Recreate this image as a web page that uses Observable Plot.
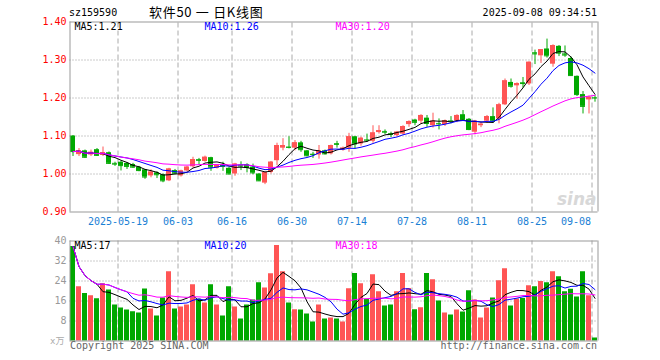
<!DOCTYPE html>
<html><head><meta charset="utf-8">
<script src="https://cdn.jsdelivr.net/npm/d3@7"></script>
<script src="https://cdn.jsdelivr.net/npm/@observablehq/plot@0.6"></script>
<style>
body{margin:0;background:#fff;}
#wrap{position:relative;width:660px;height:360px;overflow:hidden;font-family:"DejaVu Sans Mono","Noto Sans CJK SC",monospace;}
#wrap svg{position:absolute;left:0;}
.lbl{position:absolute;white-space:nowrap;font-size:10px;line-height:12px;height:12px;}
</style></head><body><div id="wrap"></div>
<script>
// ---- data ----
const code = "sz159590";
const title = "软件50 一 日K线图";
const stamp = "2025-09-08 09:34:51";
const open  = [1.100,1.051,1.061,1.050,1.064,1.049,1.056,1.028,1.031,1.028,1.025,1.018,1.011,0.995,1.003,0.998,0.982,1.009,0.995,1.008,
               1.019,1.038,1.033,1.043,1.015,1.023,1.015,1.000,1.023,1.024,1.018,1.000,0.976,1.004,1.035,1.068,1.071,1.068,1.082,1.061,
               1.052,1.050,1.061,1.053,1.080,1.063,1.068,1.098,1.079,1.090,1.086,1.109,1.112,1.106,1.101,1.105,1.130,1.142,1.139,1.147,
               1.127,1.133,1.130,1.140,1.140,1.156,1.144,1.110,1.127,1.139,1.151,1.145,1.182,1.241,1.232,1.240,1.237,1.319,1.311,1.329,
               1.289,1.336,1.316,1.304,1.257,1.209,1.195,1.201];
const high  = [1.101,1.067,1.063,1.063,1.067,1.071,1.058,1.031,1.034,1.030,1.028,1.020,1.012,1.011,1.006,1.000,1.015,1.012,1.010,1.020,
               1.044,1.041,1.047,1.044,1.025,1.031,1.017,1.028,1.032,1.027,1.026,1.001,1.005,1.033,1.081,1.093,1.098,1.088,1.086,1.062,
               1.057,1.075,1.063,1.076,1.086,1.071,1.107,1.099,1.097,1.105,1.127,1.127,1.116,1.110,1.112,1.127,1.140,1.144,1.156,1.154,
               1.160,1.145,1.142,1.151,1.156,1.167,1.146,1.141,1.136,1.154,1.174,1.186,1.250,1.250,1.240,1.254,1.295,1.326,1.327,1.355,
               1.340,1.338,1.337,1.308,1.258,1.217,1.205,1.206];
const low   = [1.046,1.046,1.041,1.046,1.046,1.046,1.025,1.020,1.008,1.012,1.015,1.006,0.986,0.990,0.988,0.977,0.980,1.000,0.992,1.006,
               1.016,1.024,1.031,1.007,1.013,1.007,0.998,0.994,1.009,1.003,0.998,0.980,0.972,1.000,1.022,1.061,1.066,1.061,1.057,1.045,
               1.041,1.039,1.050,1.050,1.068,1.060,1.057,1.066,1.073,1.083,1.081,1.105,1.104,1.096,1.098,1.103,1.123,1.127,1.132,1.123,
               1.121,1.116,1.125,1.132,1.135,1.140,1.114,1.103,1.122,1.133,1.133,1.132,1.180,1.226,1.197,1.226,1.233,1.288,1.291,1.305,
               1.281,1.309,1.307,1.258,1.204,1.158,1.158,1.189];
const close = [1.059,1.061,1.044,1.057,1.049,1.056,1.028,1.026,1.022,1.020,1.018,1.009,0.992,1.005,0.998,0.982,1.013,1.002,1.008,1.018,
               1.038,1.036,1.044,1.018,1.023,1.020,1.000,1.026,1.021,1.017,1.003,0.982,1.004,1.031,1.075,1.075,1.070,1.082,1.064,1.048,
               1.051,1.060,1.053,1.075,1.078,1.068,1.098,1.079,1.094,1.089,1.108,1.114,1.110,1.104,1.110,1.125,1.138,1.136,1.154,1.133,
               1.139,1.132,1.140,1.139,1.154,1.143,1.117,1.139,1.131,1.151,1.140,1.182,1.245,1.231,1.238,1.238,1.294,1.316,1.327,1.311,
               1.338,1.318,1.313,1.259,1.209,1.178,1.202,1.200];
const volume = [37.8,21.7,19.0,18.1,16.9,22.9,20.4,14.4,13.2,12.4,11.7,11.2,20.8,12.8,10.0,17.2,27.7,12.8,13.6,14.4,
                22.5,16.7,15.2,22.5,14.4,10.0,21.7,13.6,8.8,14.4,16.4,23.3,21.2,26.9,38.2,27.7,15.2,12.5,12.4,10.8,
                7.6,14.4,8.8,9.2,8.8,7.6,20.9,27.0,22.9,16.6,26.5,19.7,14.0,14.4,19.7,27.0,21.0,12.5,13.3,27.0,
                24.5,16.0,11.2,10.4,12.4,11.6,20.1,16.4,9.2,13.2,17.2,24.1,28.9,14.0,16.8,17.0,22.1,21.7,23.8,23.3,
                27.7,25.7,19.7,20.7,17.6,27.7,18.1,1.2];
const tickIndex  = [8, 18, 27, 37, 47, 57, 67, 77, 87];
const tickLabels = ["2025-05-19","06-03","06-16","06-30","07-14","07-28","08-11","08-25","09-08"];
const priceTicks = [1.40, 1.30, 1.20, 1.10, 1.00, 0.90];
const volTicks   = [40, 32, 24, 16, 8];
const maNames    = ["MA5", "MA10", "MA30"];
const maWindows  = [5, 10, 30];
const priceMAText = ["1.21", "1.26", "1.20"];
const volMAText   = ["17", "20", "18"];
const volUnit = "x万";
const copyright = "Copyright 2025 SINA.COM";
const siteUrl = "http://finance.sina.com.cn";

// ---- styles ----
const UP = "#ff5555", DOWN = "#00a800";
const maColors = ["#000000", "#0000ff", "#ff00ff"];
const legendDx = [4, 134, 265];
const FONT = "DejaVu Sans Mono, Noto Sans CJK SC, monospace";

const rows = open.map((o, i) => ({i, o, h: high[i], l: low[i], c: close[i], v: volume[i], up: close[i] >= o}));
const fillOf = d => d.up ? UP : DOWN;
const xs = {domain: [-0.5, 87.5], range: [69.5, 597.5], axis: null};
const N = rows.length;

const gridMarks = (y0, y1, hTicks) => [
  Plot.ruleY(hTicks, {x1: -0.5, x2: N - 0.5, stroke: "#999", strokeDasharray: "1,2"}),
  Plot.ruleX(tickIndex, {x: d => d - 0.5, y1: y0, y2: y1, stroke: "#aaa", strokeDasharray: "5,3"})
];
const borderMarks = (y0, y1) => [
  Plot.ruleX([-0.5, N - 0.5], {x: d => d, y1: y0, y2: y1, stroke: "#999"}),
  Plot.ruleY([y0, y1], {y: d => d, x1: -0.5, x2: N - 0.5, stroke: "#999"})
];
const maMarks = (field) => maWindows.map((k, j) =>
  Plot.lineY(rows, Plot.windowY({k, anchor: "end"}, {x: "i", y: field, stroke: maColors[j], strokeWidth: 1}))
);
const legendMarks = (texts) => maNames.map((n, j) =>
  Plot.text([n + ":" + texts[j]], {frameAnchor: "top-left", dx: legendDx[j], dy: 1, lineAnchor: "top",
    fill: maColors[j], fontSize: 10, textAnchor: "start"})
);

const pricePlot = Plot.plot({
  width: 660, height: 232,
  marginLeft: 70, marginRight: 62, marginTop: 21, marginBottom: 20,
  x: xs,
  y: {domain: [0.9, 1.4], range: [211.5, 21.5], axis: null},
  style: {fontFamily: FONT, fontSize: "10px", background: "transparent"},
  marks: [
    ...gridMarks(0.9, 1.4, priceTicks.slice(1, -1)),
    Plot.text(["sina"], {frameAnchor: "bottom-right", dx: -2, dy: -8, fill: "#d8d8d8", fontSize: 17,
      fontStyle: "italic", fontWeight: "bold", textAnchor: "end", fontFamily: "DejaVu Sans"}),
    Plot.ruleX(rows, {x: "i", y1: "l", y2: "h", stroke: fillOf}),
    Plot.rect(rows, {x1: d => d.i - 0.5, x2: d => d.i + 0.5, insetLeft: 0.5, insetRight: 0.5,
      y1: d => Math.min(d.o, d.c), y2: d => Math.max(d.o, d.c), fill: fillOf}),
    Plot.ruleY(rows, {y: "c", x1: d => d.i - 0.5, x2: d => d.i + 0.5, insetLeft: 0.5, insetRight: 0.5, stroke: fillOf}),
    ...maMarks("c"),
    ...borderMarks(0.9, 1.4),
    Plot.text(priceTicks, {y: d => d, text: d => d.toFixed(2), frameAnchor: "left", dx: -4,
      textAnchor: "end", fill: "#ff0000", fontSize: 10}),
    Plot.text(tickIndex.slice(0, -1), {x: d => d - 0.5, text: (d, j) => tickLabels[j], frameAnchor: "bottom",
      dy: 9, lineAnchor: "middle", fill: "#1a80d4", fontSize: 10}),
    Plot.text(tickIndex.slice(-1), {x: d => d - 0.5, text: () => tickLabels[tickLabels.length - 1], frameAnchor: "bottom",
      dy: 9, dx: -1, lineAnchor: "middle", textAnchor: "end", fill: "#1a80d4", fontSize: 10}),
    ...legendMarks(priceMAText)
  ]
});

const volPlot = Plot.plot({
  width: 660, height: 128,
  marginLeft: 70, marginRight: 62, marginTop: 8, marginBottom: 19,
  x: xs,
  y: {domain: [0, 40], range: [108.5, 8.5], axis: null},
  style: {fontFamily: FONT, fontSize: "10px", background: "transparent"},
  marks: [
    ...gridMarks(0, 40, volTicks.slice(1)),
    Plot.rectY(rows, {x1: d => d.i - 0.5, x2: d => d.i + 0.5, insetLeft: 0.5, insetRight: 0.5,
      y1: 0, y2: "v", fill: fillOf}),
    ...maMarks("v"),
    ...borderMarks(0, 40),
    Plot.text(volTicks, {y: d => d, text: d => String(d), frameAnchor: "left", dx: -4,
      textAnchor: "end", fill: "#999", fontSize: 10}),
    ...legendMarks(volMAText)
  ]
});

const wrap = document.getElementById("wrap");
pricePlot.style.top = "0px";
volPlot.style.top = "232px";
wrap.append(pricePlot, volPlot);

function label(text, left, cy, opts = {}) {
  const d = document.createElement("div");
  d.className = "lbl";
  d.textContent = text;
  d.style.top = (cy - 6) + "px";
  if (opts.right != null) d.style.right = opts.right + "px"; else d.style.left = left + "px";
  if (opts.color) d.style.color = opts.color;
  if (opts.size) d.style.fontSize = opts.size + "px";
  if (opts.family) d.style.fontFamily = opts.family;
  if (opts.ls) d.style.letterSpacing = opts.ls + "px";
  if (opts.lh) { d.style.lineHeight = opts.lh + "px"; d.style.height = opts.lh + "px"; d.style.top = (cy - opts.lh / 2) + "px"; }
  wrap.append(d);
}
label(code, 69, 13, {color: "#000"});
label(title, 149, 12, {size: 13, lh: 16, ls: 0.7, family: "'Noto Sans CJK SC', sans-serif", color: "#000"});
label(stamp, 0, 13, {right: 63, color: "#000"});
label(volUnit, 50, 341, {color: "#aaa", size: 9});
label(copyright, 70, 346, {color: "#666"});
label(siteUrl, 0, 346, {right: 63, color: "#666"});
</script></body></html>
